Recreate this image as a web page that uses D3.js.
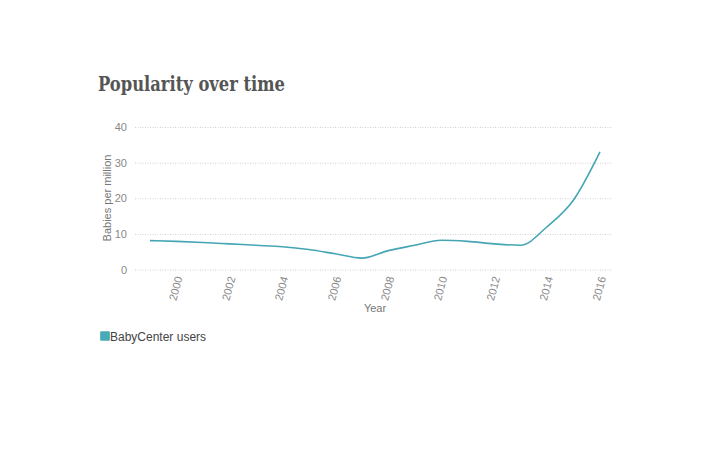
<!DOCTYPE html>
<html>
<head>
<meta charset="utf-8">
<title>Popularity over time</title>
<script src="https://cdn.jsdelivr.net/npm/d3@7"></script>
<style>
  body { margin: 0; background: #FFF; }
  svg { display: block; }
  .tick text { font-family: "Liberation Sans", Arial, sans-serif; }
</style>
</head>
<body>
<script>
  var years = [1999, 2000, 2001, 2002, 2003, 2004, 2005, 2006, 2007, 2008, 2009, 2010, 2011, 2012, 2013, 2014, 2015, 2016];
  var babies = [8.1, 7.9, 7.6, 7.2, 6.8, 6.4, 5.6, 4.4, 3.2, 5.3, 6.8, 8.2, 7.9, 7.2, 6.8, 12, 19.5, 33];
  var yTicks = [0, 10, 20, 30, 40];
  var xTicks = [2000, 2002, 2004, 2006, 2008, 2010, 2012, 2014, 2016];
  var seriesName = 'BabyCenter users';

  var width = 720, height = 449;
  var svg = d3.select('body').append('svg').attr('width', width).attr('height', height);

  var x = d3.scaleLinear().domain([1999, 2016]).range([150, 600]);
  var y = d3.scaleLinear().domain([0, 40]).range([269.5, 127]);

  // title
  svg.append('text')
    .attr('x', 98).attr('y', 91)
    .attr('font-family', '"DejaVu Serif"')
    .attr('font-weight', 'bold')
    .attr('font-size', 20)
    .attr('fill', '#555')
    .attr('textLength', 187)
    .attr('lengthAdjust', 'spacingAndGlyphs')
    .text('Popularity over time');

  // gridlines + y labels
  var yAxis = svg.append('g')
    .attr('transform', 'translate(135,0)')
    .call(d3.axisLeft(y).tickValues(yTicks).tickSize(-477).tickPadding(8));
  yAxis.select('.domain').remove();
  yAxis.selectAll('.tick line')
    .attr('stroke', '#d0d0d0')
    .attr('stroke-dasharray', '1,1.5');
  yAxis.selectAll('.tick text').attr('fill', '#888').attr('font-size', 11);

  // x labels
  var xAxis = svg.append('g')
    .attr('transform', 'translate(0,272)')
    .call(d3.axisBottom(x).tickValues(xTicks).tickFormat(d3.format('d')).tickSize(0));
  xAxis.select('.domain').remove();
  xAxis.selectAll('.tick text')
    .attr('fill', '#888')
    .attr('font-size', 11)
    .attr('text-anchor', 'end')
    .attr('dy', '0.35em')
    .attr('transform', 'rotate(-75) translate(-4,0)');

  svg.append('text')
    .attr('x', 375).attr('y', 312)
    .attr('text-anchor', 'middle')
    .attr('font-family', '"Liberation Sans", Arial, sans-serif')
    .attr('font-size', 11)
    .attr('fill', '#777')
    .text('Year');

  svg.append('text')
    .attr('transform', 'translate(111,198) rotate(-90)')
    .attr('text-anchor', 'middle')
    .attr('font-family', '"Liberation Sans", Arial, sans-serif')
    .attr('font-size', 11)
    .attr('fill', '#777')
    .text('Babies per million');

  // line
  var line = d3.line()
    .x(function(d, i){ return x(years[i]); })
    .y(function(d){ return y(d); })
    .curve(d3.curveMonotoneX);

  svg.append('path')
    .datum(babies)
    .attr('d', line)
    .attr('fill', 'none')
    .attr('stroke', '#45a5b4')
    .attr('stroke-width', 1.6);

  // legend
  var legend = svg.append('g').attr('transform', 'translate(100,331)');
  legend.append('path')
    .attr('d', d3.symbol().type(d3.symbolSquare).size(60)())
    .attr('transform', 'translate(5,5)')
    .attr('fill', '#4aaab8')
    .attr('stroke', '#4aaab8')
    .attr('stroke-width', 2)
    .attr('stroke-linejoin', 'round');
  legend.append('text')
    .attr('x', 10).attr('y', 9.5)
    .attr('font-family', '"Liberation Sans", Arial, sans-serif')
    .attr('font-size', 12)
    .attr('fill', '#444')
    .text(seriesName);
</script>
</body>
</html>
